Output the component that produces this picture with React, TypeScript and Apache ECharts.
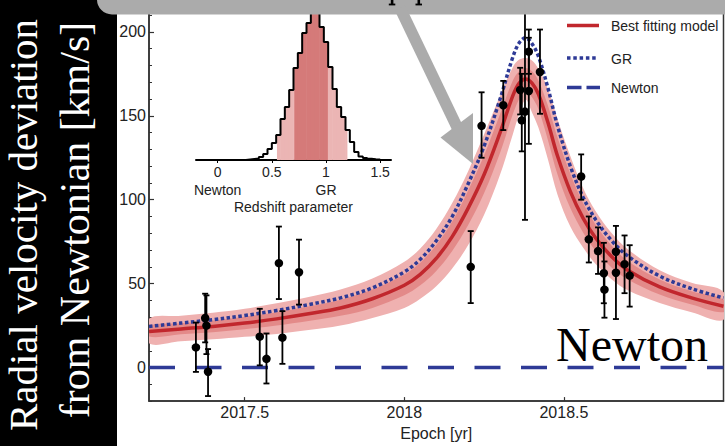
import React, { useEffect, useRef } from 'react';
import * as echarts from 'echarts';

// ---------- Model curves ----------
const curveYears = [2017.2, 2017.3, 2017.4, 2017.5, 2017.6, 2017.7, 2017.8, 2017.9, 2018.0, 2018.05, 2018.1, 2018.15, 2018.2, 2018.25, 2018.3, 2018.34, 2018.36, 2018.38, 2018.4, 2018.42, 2018.45, 2018.48, 2018.52, 2018.56, 2018.6, 2018.65, 2018.7, 2018.8, 2018.9, 2019.0];
const bestFit = [21.5, 23, 24.5, 26.5, 29, 32, 35.5, 41, 49, 55.5, 65, 78, 95, 115, 140, 162, 169.5, 172, 169.5, 163, 146, 126, 105, 89, 77, 66, 58, 48, 41.5, 36.5];
const grCurve = [24.5, 26.5, 28.5, 31, 34, 37.5, 41.5, 47.5, 57, 64.5, 75.5, 90, 109.5, 132, 160, 185, 193.5, 196.5, 193, 185.5, 166.5, 144, 120, 101.5, 88, 75.5, 66.5, 54.5, 47, 41.5];
const inner1Lo = [18.5, 19.8, 21, 22.8, 25, 27.7, 30.8, 35.5, 43, 49, 57.5, 69.5, 85, 104, 128, 151, 160, 165.5, 161, 154, 135.5, 115, 95, 80.5, 69.5, 59.5, 52.5, 43.5, 37.5, 33];
const inner1Hi = [24.8, 26.4, 28, 30.3, 33, 36.4, 40.4, 46.5, 55.5, 62.5, 73, 87, 105.5, 126.5, 151, 171, 176.5, 178.5, 176.5, 171, 156, 137, 115.5, 98, 85, 72.5, 63.5, 52.5, 45.5, 40.5];
const outer2Lo = [14.5, 15.6, 16.8, 18.3, 20, 22.3, 25, 29.5, 35.5, 41, 48.5, 59, 73, 91, 115, 139, 151, 159.5, 152, 143, 124, 103, 84, 71.5, 61.5, 52.5, 46, 38.5, 33, 28.5];
const outer2Hi = [29, 30.8, 32.6, 35, 38.3, 42, 46.5, 53, 63, 71, 82.5, 98, 117, 139, 162, 179, 183.5, 184.5, 183, 178, 166, 148, 126, 107, 93, 80, 70.5, 58, 50.5, 45];
const newtonYears = [2017.2, 2019.0];
const newtonValues = [0, 0];

// ---------- Measurements ----------
const pointYears = [2017.347, 2017.376, 2017.38, 2017.385, 2017.547, 2017.568, 2017.607, 2017.618, 2017.67, 2018.208, 2018.242, 2018.31, 2018.363, 2018.368, 2018.378, 2018.39, 2018.39, 2018.425, 2018.554, 2018.578, 2018.607, 2018.625, 2018.627, 2018.663, 2018.663, 2018.69, 2018.706];
const pointValues = [12, 29.5, 25, -2.5, 18.4, 5.2, 62.2, 17.8, 56.8, 60, 144, 156.3, 165.4, 147.3, 152.5, 188.2, 164.8, 176.1, 113.8, 76.4, 69.4, 56.2, 46.4, 69, 56.5, 61.6, 54.8];
const pointLow = [-2.6, 15, 8, -17, 1.3, -9.5, 40.8, 2.2, 37.5, 38.4, 125, 141.5, 150.8, 128.8, 88, 175, 133.3, 151.2, 100, 62.6, 55.8, 38.3, 29.7, 56, 28.9, 44.3, 36.3];
const pointHigh = [26.8, 44, 43, 11, 35, 20.3, 84, 33.6, 76.2, 81.3, 164, 170.8, 178.6, 175, 230, 201.4, 196.5, 201.4, 127, 90, 83.5, 74.3, 63.2, 84.4, 70, 78.7, 72.9];

// ---------- Axes ----------
const xTickValues = [2017.5, 2018, 2018.5];
const yTickValues = [0, 50, 100, 150, 200];

// ---------- Inset histogram ----------
const histBinWidth = 0.04;
const histBinStarts = [0.26, 0.30, 0.34, 0.38, 0.42, 0.46, 0.50, 0.54, 0.58, 0.62, 0.66, 0.70, 0.74, 0.78, 0.82, 0.86, 0.90, 0.94, 0.98, 1.02, 1.06, 1.10, 1.14, 1.18, 1.22, 1.26, 1.30, 1.34, 1.38, 1.42, 1.46];
const histCounts = [0.5, 1, 1.5, 3, 6, 11, 17, 25, 41, 53, 70, 92, 107, 127, 137, 156, 158, 133, 118, 93, 71, 53, 43, 30, 18, 8, 3.5, 2, 1.2, 0.7, 0.4];
const ci68 = [0.71, 1.02];
const ci95 = [0.55, 1.195];
const insetTicks = [0, 0.5, 1, 1.5];
const insetTickNames: Record<string, string> = { '0': 'Newton', '1': 'GR' };

const legendNames = ['Best fitting model', 'GR', 'Newton'];

const SANS = '"Liberation Sans", Arial, Helvetica, sans-serif';
const SERIF = '"Liberation Serif", "Times New Roman", serif';
const RED = '#c1272d';
const BLUE = '#2e3a96';
const BAND_OUT = '#efb1b0';
const BAND_IN = '#e38a89';
const HIST_LIGHT = '#ebb5b4';
const HIST_DARK = '#d57a79';
const GRAY = '#ababab';
const AXIS = '#333';
const TXT = '#222';

function bandSeries(lo: number[], hi: number[], color: string, z: number) {
  return {
    type: 'custom', xAxisIndex: 0, yAxisIndex: 0, clip: true, silent: true, z,
    data: curveYears.map((x, i) => [x, lo[i], hi[i]]),
    encode: { x: 0, y: [1, 2] },
    renderItem: (params: any, api: any) => {
      if (params.dataIndex !== 0) return null;
      const upper = curveYears.map((x, i) => api.coord([x, hi[i]]));
      const lower = curveYears.map((x, i) => api.coord([x, lo[i]])).reverse();
      return {
        type: 'polygon',
        shape: { points: upper.concat(lower), smooth: 0.35 },
        style: { fill: color },
      };
    },
  };
}

export default function App() {
  const ref = useRef<HTMLDivElement>(null);
  useEffect(() => {
    if (!ref.current) return;
    const chart = echarts.init(ref.current, undefined, { renderer: 'svg' });

    const histData = histBinStarts.map((s, i) => [s, s + histBinWidth, histCounts[i]]);
    const lastEnd = histBinStarts[histBinStarts.length - 1] + histBinWidth;
    const histOutline = [[histBinStarts[0], 0], ...histBinStarts.map((s, i) => [s, histCounts[i]]), [lastEnd, 0]];

    const option: any = {
      animation: false,
      backgroundColor: '#fff',
      grid: [
        { left: 149, right: 1.5, top: 0, bottom: 40.5, show: true, borderColor: AXIS, borderWidth: 1.5, backgroundColor: 'transparent' },
        { left: 196, width: 195, top: 0, height: 160 },
      ],
      xAxis: [
        {
          type: 'value', gridIndex: 0, min: 2017.2, max: 2019.0,
          name: 'Epoch [yr]', nameLocation: 'middle', nameGap: 16,
          nameTextStyle: { fontFamily: SANS, fontSize: 16, color: TXT },
          axisLine: { show: true, onZero: false, lineStyle: { color: AXIS, width: 1.5 } },
          axisTick: { show: true, inside: true, length: 4, customValues: xTickValues, lineStyle: { color: AXIS, width: 1.2 } },
          axisLabel: { customValues: xTickValues, formatter: (v: number) => String(v), margin: 3, fontFamily: SANS, fontSize: 16, color: TXT },
          splitLine: { show: false },
        },
        {
          type: 'value', gridIndex: 1, min: -0.2, max: 1.6,
          name: 'Redshift parameter', nameLocation: 'middle', nameGap: 40,
          nameTextStyle: { fontFamily: SANS, fontSize: 14, color: TXT },
          axisLine: { show: true, onZero: false, lineStyle: { color: '#000', width: 2 } },
          axisTick: { show: true, inside: false, length: 3, customValues: insetTicks, lineStyle: { color: '#000', width: 1 } },
          axisLabel: {
            customValues: insetTicks,
            formatter: (v: number) => (insetTickNames[String(v)] ? `${v}\n${insetTickNames[String(v)]}` : String(v)),
            margin: 3, lineHeight: 18, fontFamily: SANS, fontSize: 14, color: TXT,
          },
          splitLine: { show: false },
        },
      ],
      yAxis: [
        {
          type: 'value', gridIndex: 0, min: -20, max: 219, position: 'left',
          axisLine: { show: true, onZero: false, lineStyle: { color: AXIS, width: 1.5 } },
          axisTick: { show: true, inside: true, length: 5, customValues: yTickValues, lineStyle: { color: AXIS, width: 1.2 } },
          axisLabel: { customValues: yTickValues, formatter: (v: number) => String(v), margin: 3, fontFamily: SANS, fontSize: 16, color: TXT },
          splitLine: { show: false },
        },
        {
          type: 'value', gridIndex: 0, min: -20, max: 219, interval: 10, position: 'left', offset: 0,
          axisLine: { show: false },
          axisTick: { show: true, inside: true, length: 3, lineStyle: { color: AXIS, width: 1 } },
          axisLabel: { show: false },
          splitLine: { show: false },
        },
        { type: 'value', gridIndex: 1, min: 0, max: 160, show: false, splitLine: { show: false } },
      ],
      series: [
        bandSeries(outer2Lo, outer2Hi, BAND_OUT, 1),
        bandSeries(inner1Lo, inner1Hi, BAND_IN, 2),
        {
          type: 'line', name: legendNames[0], xAxisIndex: 0, yAxisIndex: 0,
          data: curveYears.map((x, i) => [x, bestFit[i]]), smooth: 0.35, showSymbol: false,
          lineStyle: { color: RED, width: 3.5 }, z: 3,
        },
        {
          type: 'line', name: legendNames[1], xAxisIndex: 0, yAxisIndex: 0,
          data: curveYears.map((x, i) => [x, grCurve[i]]), smooth: 0.35, showSymbol: false,
          lineStyle: { color: BLUE, width: 3.5, type: [3.5, 2.5] }, z: 4,
        },
        {
          type: 'line', name: legendNames[2], xAxisIndex: 0, yAxisIndex: 0,
          data: newtonYears.map((x, i) => [x, newtonValues[i]]), showSymbol: false,
          lineStyle: { color: BLUE, width: 3.5, type: [26, 20.5] }, z: 4,
        },
        {
          type: 'custom', xAxisIndex: 0, yAxisIndex: 0,
          data: pointYears.map((x, i) => [x, pointLow[i], pointHigh[i]]),
          encode: { x: 0, y: [1, 2] },
          z: 5,
          renderItem: (params: any, api: any) => {
            const x = api.value(0);
            const a = api.coord([x, api.value(1)]);
            const b = api.coord([x, api.value(2)]);
            const cap = 3;
            const st = { stroke: '#000', lineWidth: 1.8 };
            return {
              type: 'group',
              children: [
                { type: 'line', shape: { x1: a[0], y1: a[1], x2: b[0], y2: b[1] }, style: st },
                { type: 'line', shape: { x1: a[0] - cap, y1: a[1], x2: a[0] + cap, y2: a[1] }, style: st },
                { type: 'line', shape: { x1: b[0] - cap, y1: b[1], x2: b[0] + cap, y2: b[1] }, style: st },
              ],
            };
          },
        },
        {
          type: 'scatter', xAxisIndex: 0, yAxisIndex: 0,
          data: pointYears.map((x, i) => [x, pointValues[i]]),
          symbol: 'circle', symbolSize: 8.5, itemStyle: { color: '#000', opacity: 1 }, z: 6,
        },
        {
          type: 'custom', xAxisIndex: 1, yAxisIndex: 2,
          data: histData, encode: { x: [0, 1], y: 2 }, z: 2,
          renderItem: (params: any, api: any) => {
            const s = api.value(0);
            const e = api.value(1);
            const c = api.value(2);
            const segs: [number, number, string][] = [
              [ci95[0], ci68[0], HIST_LIGHT],
              [ci68[0], ci68[1], HIST_DARK],
              [ci68[1], ci95[1], HIST_LIGHT],
            ];
            const children: any[] = [];
            segs.forEach(([lo, hi, col]) => {
              const l = Math.max(lo, s);
              const r = Math.min(hi, e);
              if (r <= l) return;
              const p1 = api.coord([l, c]);
              const p2 = api.coord([r, 0]);
              children.push({
                type: 'rect',
                shape: { x: p1[0] - 0.3, y: p1[1], width: p2[0] - p1[0] + 0.6, height: p2[1] - p1[1] },
                style: { fill: col },
              });
            });
            return { type: 'group', children };
          },
        },
        {
          type: 'line', xAxisIndex: 1, yAxisIndex: 2, data: histOutline, step: 'end',
          showSymbol: false, lineStyle: { color: '#000', width: 2 }, z: 3,
        },
      ],
      graphic: [
        { type: 'rect', z: 50, shape: { x: 0, y: 0, width: 117, height: 446 }, style: { fill: '#000' } },
        {
          type: 'text', z: 51, x: 23, y: 225, rotation: Math.PI / 2,
          style: { text: 'Radial velocity deviation', fill: '#fff', font: `41px ${SERIF}`, align: 'center', verticalAlign: 'middle' },
        },
        {
          type: 'text', z: 51, x: 75, y: 220, rotation: Math.PI / 2,
          style: { text: 'from Newtonian [km/s]', fill: '#fff', font: `42px ${SERIF}`, align: 'center', verticalAlign: 'middle' },
        },
        { type: 'rect', z: 60, shape: { x: 97, y: -30, width: 700, height: 44.5, r: [0, 0, 0, 15] }, style: { fill: GRAY } },
        { type: 'rect', z: 61, shape: { x: 390.8, y: 0, width: 2.6, height: 5 }, style: { fill: '#000' } },
        { type: 'rect', z: 61, shape: { x: 388.8, y: 3.6, width: 6.5, height: 1.8 }, style: { fill: '#000' } },
        { type: 'rect', z: 61, shape: { x: 417.5, y: 0, width: 2.6, height: 5 }, style: { fill: '#000' } },
        { type: 'rect', z: 61, shape: { x: 415.5, y: 3.6, width: 6.5, height: 1.8 }, style: { fill: '#000' } },
        { type: 'line', z: 60, shape: { x1: 400, y1: 8, x2: 457.5, y2: 128 }, style: { stroke: GRAY, lineWidth: 11.5 } },
        { type: 'polygon', z: 60, shape: { points: [[440.5, 137.5], [473, 113], [473, 164]] }, style: { fill: GRAY } },
        { type: 'line', z: 70, shape: { x1: 567, y1: 25.5, x2: 599, y2: 25.5 }, style: { stroke: RED, lineWidth: 3.5 } },
        { type: 'line', z: 70, shape: { x1: 567, y1: 58, x2: 598, y2: 58 }, style: { stroke: BLUE, lineWidth: 3.5, lineDash: [3.5, 2.8] } },
        { type: 'line', z: 70, shape: { x1: 567, y1: 87.5, x2: 600, y2: 87.5 }, style: { stroke: BLUE, lineWidth: 3.5, lineDash: [14.5, 5] } },
        { type: 'text', z: 70, x: 611, y: 26, style: { text: legendNames[0], fill: TXT, font: `14px ${SANS}`, align: 'left', verticalAlign: 'middle' } },
        { type: 'text', z: 70, x: 611, y: 58.5, style: { text: legendNames[1], fill: TXT, font: `14px ${SANS}`, align: 'left', verticalAlign: 'middle' } },
        { type: 'text', z: 70, x: 611, y: 88, style: { text: legendNames[2], fill: TXT, font: `14px ${SANS}`, align: 'left', verticalAlign: 'middle' } },
        { type: 'text', z: 70, x: 708, y: 344, style: { text: 'Newton', fill: '#000', font: `48px ${SERIF}`, align: 'right', verticalAlign: 'middle' } },
      ],
    };
    chart.setOption(option);
    return () => chart.dispose();
  }, []);
  return <div ref={ref} style={{ position: 'fixed', left: 0, top: 0, width: 725, height: 446 }} />;
}
